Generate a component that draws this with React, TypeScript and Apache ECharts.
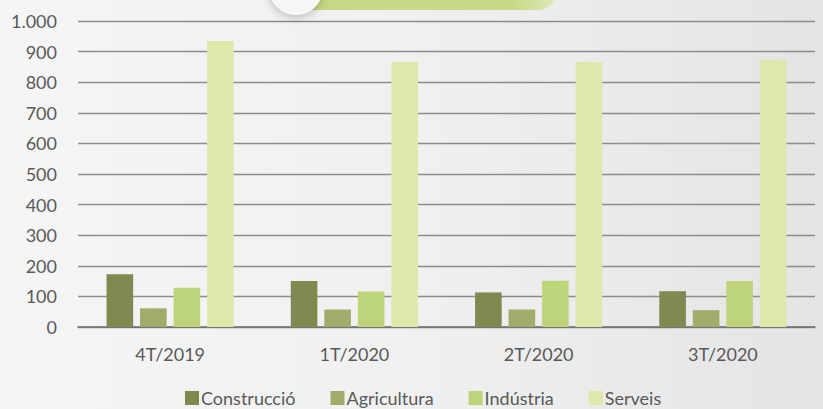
import React, { useEffect, useRef } from "react";
import * as echarts from "echarts";

const categories = ["4T/2019", "1T/2020", "2T/2020", "3T/2020"];
const construccio = [172, 150, 113, 117];
const agricultura = [61, 57, 57, 55];
const industria = [128, 116, 151, 150];
const serveis = [935, 866, 866, 873];
const seriesNames = ["Construcció", "Agricultura", "Indústria", "Serveis"];
const colors = ["#7e8a50", "#a2ab6a", "#bdd47a", "#dee8ab"];

export default function App() {
  const ref = useRef<HTMLDivElement>(null);
  useEffect(() => {
    if (!ref.current) return;
    const chart = echarts.init(ref.current, null, { renderer: "svg" });
    const font = "Lato, 'Noto Sans', sans-serif";
    const data = [construccio, agricultura, industria, serveis];
    chart.setOption({
      animation: false,
      backgroundColor: {
        type: "linear", x: 0, y: 0, x2: 1, y2: 0,
        colorStops: [
          { offset: 0, color: "#f5f5f5" },
          { offset: 0.5, color: "#f0f0f0" },
          { offset: 1, color: "#e4e4e4" },
        ],
      },
      graphic: [
        {
          type: "rect",
          shape: { x: 290, y: -30, width: 265, height: 40, r: 16 },
          style: {
            fill: {
              type: "linear", x: 0, y: 0, x2: 1, y2: 0,
              colorStops: [
                { offset: 0, color: "#c5d983" },
                { offset: 0.85, color: "#c8da88" },
                { offset: 1, color: "#dde9b8" },
              ],
            },
          },
          z: 10,
        },
        {
          type: "circle",
          shape: { cx: 296, cy: -12, r: 27 },
          style: {
            fill: "#f7f7f7",
            shadowBlur: 8,
            shadowColor: "rgba(0,0,0,0.25)",
            shadowOffsetY: 2,
          },
          z: 11,
        },
      ],
      textStyle: { fontFamily: font },
      legend: {
        top: 386,
        left: 180,
        padding: [2, 5, 0, 5],
        itemWidth: 14,
        itemHeight: 14,
        itemGap: 35,
        icon: "rect",
        textStyle: {
          fontFamily: font,
          fontSize: 18,
          lineHeight: 20,
          color: "#595959",
          padding: [0, 0, 0, -3],
        },
        data: seriesNames,
      },
      grid: { left: 78, right: 8, top: 21, bottom: 82 },
      xAxis: {
        type: "category",
        data: categories,
        axisTick: { show: false },
        axisLine: { lineStyle: { color: "#6e6e6e", width: 1.5 } },
        axisLabel: { fontFamily: font, fontSize: 18, color: "#595959", margin: 18 },
      },
      yAxis: {
        type: "value",
        min: 0,
        max: 1000,
        interval: 100,
        axisLine: { show: false },
        axisTick: { show: false },
        axisLabel: {
          fontFamily: font,
          fontSize: 18,
          color: "#595959",
          margin: 21,
          formatter: (v: number) => (v >= 1000 ? v.toLocaleString("de-DE") : String(v)),
        },
        splitLine: { lineStyle: { color: "#8c8c8c", width: 1.3 } },
      },
      series: seriesNames.map((name, i) => ({
        name,
        type: "bar",
        data: data[i],
        barGap: "26%",
        barCategoryGap: "31%",
        itemStyle: { color: colors[i] },
      })),
    });
    return () => chart.dispose();
  }, []);
  return (
    <div
      ref={ref}
      style={{ position: "fixed", left: 0, top: 0, width: 823, height: 409 }}
    />
  );
}
